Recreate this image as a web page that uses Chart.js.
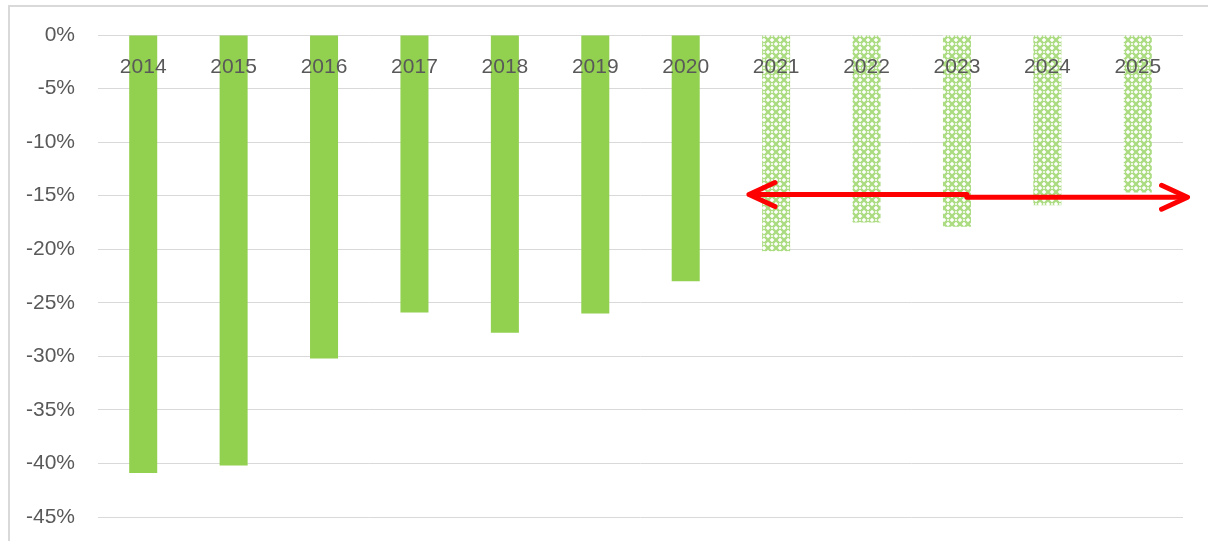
<!DOCTYPE html>
<html>
<head>
<meta charset="utf-8">
<script src="https://cdn.jsdelivr.net/npm/chart.js@4.4.1/dist/chart.umd.min.js"></script>
<style>
html,body{margin:0;padding:0;background:#fff;}
#wrap{width:1208px;height:541px;position:relative;}
</style>
</head>
<body>
<div id="wrap"><canvas id="c" width="1208" height="541"></canvas></div>
<script>
// ---- data ----
const years = ['2014','2015','2016','2017','2018','2019','2020','2021','2022','2023','2024','2025'];
const values = [-40.9, -40.2, -30.2, -25.9, -27.8, -26.0, -23.0, -20.2, -17.5, -17.9, -15.9, -14.7];
const projected = [false,false,false,false,false,false,false,true,true,true,true,true];
const yTicks = [0, -5, -10, -15, -20, -25, -30, -35, -40, -45];
// red double arrow: x in category-index units, y in %
const arrowX = [6.70, 9.11, 11.55];
const arrowY = [-14.9, -15.15];

// ---- pattern for projected bars ----
function makePattern() {
  const s = 8;
  const pc = document.createElement('canvas');
  pc.width = s; pc.height = s;
  const g = pc.getContext('2d');
  g.fillStyle = '#ffffff';
  g.fillRect(0, 0, s, s);
  g.strokeStyle = '#acdc82';
  g.lineWidth = 2.4;
  g.beginPath();
  g.moveTo(0, 0); g.lineTo(s, s);
  g.moveTo(s, 0); g.lineTo(0, s);
  g.stroke();
  g.fillStyle = '#ffffff';
  g.beginPath();
  g.arc(s/2, s/2, 1.0, 0, Math.PI*2);
  g.fill();
  return g.createPattern(pc, 'repeat');
}
const solid = '#92D050';
const pattern = makePattern();
const FONT = '"Liberation Sans", Arial, sans-serif';

const framePlugin = {
  id: 'frame',
  beforeDraw(chart) {
    const ctx = chart.ctx;
    ctx.save();
    ctx.strokeStyle = '#d9d9d9';
    ctx.lineWidth = 2;
    ctx.beginPath();
    ctx.moveTo(9, 560);
    ctx.lineTo(9, 6);
    ctx.lineTo(1230, 6);
    ctx.stroke();
    ctx.restore();
  }
};

const catLabelPlugin = {
  id: 'catLabels',
  afterDatasetsDraw(chart) {
    const ctx = chart.ctx;
    const xs = chart.scales.x, ys = chart.scales.y;
    const y0 = ys.getPixelForValue(0);
    ctx.save();
    ctx.font = '21px ' + FONT;
    ctx.fillStyle = '#595959';
    ctx.textAlign = 'center';
    ctx.textBaseline = 'alphabetic';
    years.forEach((yr, i) => {
      ctx.fillText(yr, xs.getPixelForValue(i), y0 + 38);
    });
    ctx.restore();
  }
};

const arrowPlugin = {
  id: 'arrow',
  afterDraw(chart) {
    const ctx = chart.ctx;
    const xs = chart.scales.x, ys = chart.scales.y;
    const px = arrowX.map(v => xs.getPixelForValue(v));
    const py = arrowY.map(v => ys.getPixelForValue(v));
    ctx.save();
    ctx.strokeStyle = '#ff0000';
    ctx.lineWidth = 5;
    ctx.lineCap = 'round';
    ctx.lineJoin = 'round';
    ctx.beginPath();
    ctx.moveTo(px[0] + 2, py[0]);
    ctx.lineTo(px[1], py[0]);
    ctx.stroke();
    ctx.beginPath();
    ctx.moveTo(px[1], py[1]);
    ctx.lineTo(px[2] - 2, py[1]);
    ctx.stroke();
    const hl = 26, hw = 12;
    ctx.beginPath();
    ctx.moveTo(px[0] + hl, py[0] - hw);
    ctx.lineTo(px[0], py[0]);
    ctx.lineTo(px[0] + hl, py[0] + hw);
    ctx.stroke();
    ctx.beginPath();
    ctx.moveTo(px[2] - hl, py[1] - hw);
    ctx.lineTo(px[2], py[1]);
    ctx.lineTo(px[2] - hl, py[1] + hw);
    ctx.stroke();
    ctx.restore();
  }
};

new Chart(document.getElementById('c'), {
  type: 'bar',
  data: {
    labels: years,
    datasets: [{
      data: values,
      backgroundColor: projected.map(p => p ? pattern : solid),
      borderWidth: 0,
      barPercentage: 0.31,
      categoryPercentage: 1.0
    }]
  },
  options: {
    responsive: false,
    animation: false,
    events: [],
    layout: { padding: { left: 10, right: 25, top: 35, bottom: 24 } },
    plugins: { legend: { display: false }, tooltip: { enabled: false } },
    scales: {
      x: { display: false },
      y: {
        min: -45, max: 0,
        afterBuildTicks(scale) { scale.ticks = yTicks.map(v => ({ value: v })); },
        afterFit(scale) { scale.width = 88; scale.paddingTop = 0; scale.paddingBottom = 0; },
        ticks: {
          padding: 23,
          color: '#595959',
          font: { family: FONT, size: 21 },
          callback: v => v + '%'
        },
        grid: { color: '#d9d9d9', lineWidth: 1, drawTicks: false },
        border: { display: false }
      }
    }
  },
  plugins: [framePlugin, catLabelPlugin, arrowPlugin]
});
</script>
</body>
</html>
